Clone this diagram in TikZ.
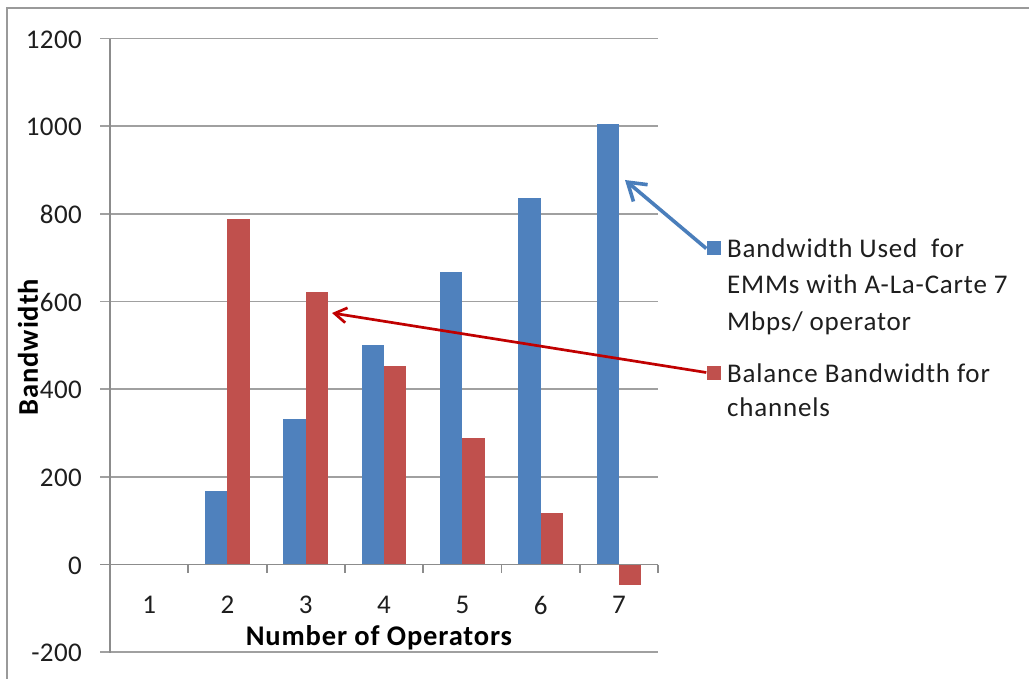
\documentclass[tikz,border=0pt]{standalone}
\usepackage{fontspec}
\setmainfont{Carlito}
\usetikzlibrary{arrows.meta}
\definecolor{barblue}{HTML}{4F81BD}
\definecolor{barred}{HTML}{C0504D}
\definecolor{gridgrey}{HTML}{A0A0A0}
\definecolor{axisgrey}{HTML}{8C8C8C}
\definecolor{framegrey}{HTML}{9A9A9A}
\definecolor{arrowred}{HTML}{C00000}
\definecolor{arrowblue}{HTML}{4A7EBB}
\definecolor{labelgrey}{HTML}{1E1E1E}
\begin{document}
\begin{tikzpicture}[x=1pt,y=-1pt,
  gridline/.style={draw=gridgrey,line width=1.8pt},
  axisline/.style={draw=axisgrey,line width=1.8pt},
  ticklabel/.style={font=\fontsize{27}{30}\selectfont\addfontfeatures{LetterSpace=1.5},text=labelgrey,inner sep=0pt},
  axistitle/.style={font=\fontsize{28.5}{30}\selectfont\bfseries\addfontfeatures{LetterSpace=3},text=black,inner sep=0pt},
  legtext/.style={font=\fontsize{27}{30}\selectfont\addfontfeatures{LetterSpace=3},text=labelgrey,inner sep=0pt,anchor=base west},
  legsq/.style={minimum size=14pt,inner sep=0pt,draw=none},
  bluearrow/.style={draw=arrowblue,line width=3.6pt,-{Straight Barb[length=17pt,width=22pt,line width=3.6pt]}},
  redarrow/.style={draw=arrowred,line width=2.7pt,-{Straight Barb[length=12pt,width=15pt,line width=2.7pt]}}
]
\useasboundingbox (0,0) rectangle (1029,679);
\fill[white] (0,0) rectangle (1029,679);
% frame
\draw[draw=framegrey,line width=2.2pt] (7,680) -- (7,8) -- (1030,8);
% gridlines and tick labels
\foreach \v in {-200,200,400,600,800,1000,1200}{
  \draw[gridline] (100,{564.5-0.4383*\v}) -- (658,{564.5-0.4383*\v});
}
\foreach \v in {-200,0,200,400,600,800,1000,1200}{
  \node[ticklabel,anchor=east] (yl\v) at (82,{565.5-0.4383*\v}) {\v};
}
% bars
\foreach \i/\b/\r in {2/167/788,3/333/622,4/500/452,5/667/288,6/836/118,7/1004/-47}{
  \pgfmathsetmacro{\cx}{110+78.3*(\i-0.5)}
  \fill[barblue] ({\cx-22.4},564.5) rectangle (\cx,{564.5-0.4383*\b});
  \fill[barred] (\cx,564.5) rectangle ({\cx+22.4},{564.5-0.4383*\r});
}
% axes
\draw[axisline] (110,39.5) -- (110,653.3);
\draw[axisline] (100,564.5) -- (658,564.5);
\foreach \i in {1,...,7}{
  \draw[axisline] ({110+78.3*\i},564.5) -- ({110+78.3*\i},573);
}
% category labels
\foreach \i in {1,...,7}{
  \node[ticklabel] (xl\i) at ({110+78.3*(\i-0.5)},605) {\i};
}
% axis titles
\node[axistitle] (xt) at (379,638) {Number of Operators};
\node[axistitle,rotate=90] (yt) at (28,347) {Bandwidth};
% legend
\node[legsq,fill=barblue] (lb) at (713.5,248.5) {};
\node[legsq,fill=barred] (lr) at (713.5,372.5) {};
\node[legtext] (lt1) at (727,258) {Bandwidth Used\ \ for};
\node[legtext] (lt2) at (727,294) {EMMs with A-La-Carte 7};
\node[legtext] (lt3) at (727,330.5) {Mbps/ operator};
\node[legtext] (lt4) at (727,382) {Balance Bandwidth for};
\node[legtext] (lt5) at (727,416) {channels};
% arrows
\coordinate (tb) at (625,180);
\coordinate (tr) at (332,313);
\draw[bluearrow] (lb.west) -- (tb);
\draw[redarrow] (lr.west) -- (tr);
\end{tikzpicture}
\end{document}
